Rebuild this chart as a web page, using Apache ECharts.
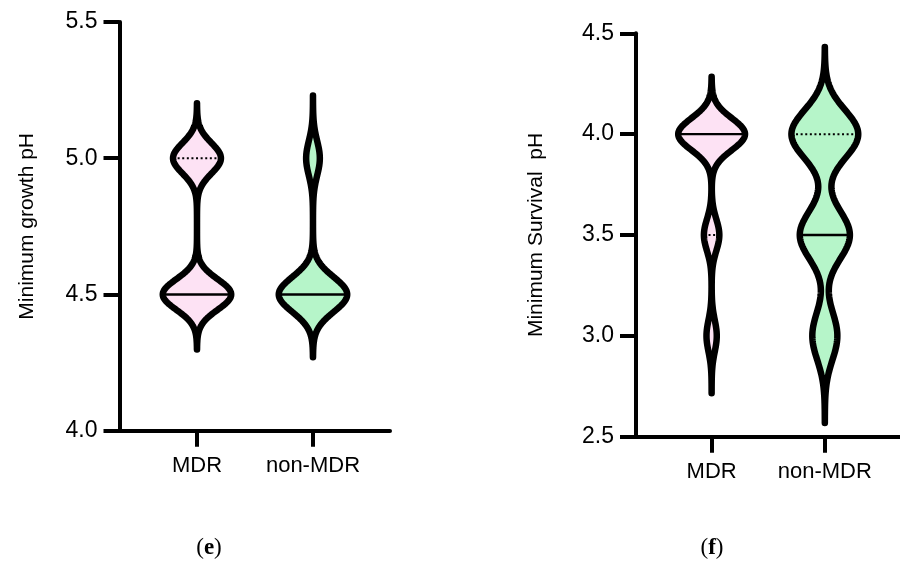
<!DOCTYPE html>
<html>
<head>
<meta charset="utf-8">
<script src="https://cdn.jsdelivr.net/npm/echarts@6/dist/echarts.min.js"></script>
<style>
  html, body { margin: 0; padding: 0; background: #ffffff; }
  #chart { width: 900px; height: 574px; }
</style>
</head>
<body>
<div id="chart"></div>
<script>
// Groups shown on both panels
const categories = ['MDR', 'non-MDR'];

// (e) Minimum growth pH: observed pH levels and number of isolates at each level
const growthLevels = [4.5, 5.0];
const growthCountsMDR = [10, 7];
const growthCountsNonMDR = [10, 2];
const growthBandwidth = [0.056, 0.064];   // KDE bandwidth per group (pH units)
const growthTicks = [4.0, 4.5, 5.0, 5.5];

// (f) Minimum survival pH
const survivalLevels = [3.0, 3.5, 4.0];
const survivalCountsMDR = [2, 3, 13];
const survivalCountsNonMDR = [3, 6, 8];
const survivalBandwidth = [0.079, 0.12];
const survivalTicks = [2.5, 3.0, 3.5, 4.0, 4.5];

// Drawing parameters
const FONT = "'Liberation Sans', Arial, Helvetica, sans-serif";
const SERIF = "'Liberation Serif', 'DejaVu Serif', serif";
const KDE_CUT = 3.6;          // tails extend this many bandwidths past the data
const HALF_WIDTH = 0.295;     // widest point of a violin, in category units
const X_MIN = 0.332, X_MAX = 2.664;
const FILLS = ['#fde2f4', '#b6f5c9'];

function expand(levels, counts) {
  const obs = [];
  levels.forEach((v, i) => { for (let k = 0; k < counts[i]; k++) obs.push(v); });
  return obs.sort((a, b) => a - b);
}

// percentile by rank (n+1)p
function percentile(sorted, p) {
  const n = sorted.length;
  const r = (n + 1) * p;
  const lo = Math.floor(r), f = r - lo;
  const at = i => sorted[Math.max(0, Math.min(n - 1, i - 1))];
  return at(lo) + (at(lo + 1) - at(lo)) * f;
}

function buildViolin(levels, counts, h, x) {
  const obs = expand(levels, counts);
  const lo = obs[0] - KDE_CUT * h;
  const hi = obs[obs.length - 1] + KDE_CUT * h;
  const steps = 300;
  const profile = [];
  let maxD = 0;
  for (let s = 0; s <= steps; s++) {
    const y = lo + (hi - lo) * s / steps;
    let d = 0;
    levels.forEach((v, i) => {
      const z = (y - v) / h;
      d += counts[i] * Math.exp(-0.5 * z * z);
    });
    profile.push([y, d]);
    if (d > maxD) maxD = d;
  }
  profile.forEach(p => { p[1] /= maxD; });
  return {
    x: x,
    profile: profile,
    median: percentile(obs, 0.5),
    q1: percentile(obs, 0.25),
    q3: percentile(obs, 0.75)
  };
}

function widthAt(profile, y) {
  for (let i = 1; i < profile.length; i++) {
    if (profile[i][0] >= y) {
      const a = profile[i - 1], b = profile[i];
      const t = (y - a[0]) / (b[0] - a[0]);
      return a[1] + (b[1] - a[1]) * t;
    }
  }
  return 0;
}

const growthViolins = [
  buildViolin(growthLevels, growthCountsMDR, growthBandwidth[0], 1),
  buildViolin(growthLevels, growthCountsNonMDR, growthBandwidth[1], 2)
];
const survivalViolins = [
  buildViolin(survivalLevels, survivalCountsMDR, survivalBandwidth[0], 1),
  buildViolin(survivalLevels, survivalCountsNonMDR, survivalBandwidth[1], 2)
];

function violinRenderer(violins) {
  return function (params, api) {
    const v = violins[params.dataIndex];
    const right = v.profile.map(p => api.coord([v.x + p[1] * HALF_WIDTH, p[0]]));
    const left = v.profile.slice().reverse().map(p => api.coord([v.x - p[1] * HALF_WIDTH, p[0]]));
    const children = [{
      type: 'polygon',
      shape: { points: right.concat(left) },
      style: { fill: FILLS[params.dataIndex], stroke: '#000', lineWidth: 6.5, lineJoin: 'round' }
    }];
    const hline = (y, dashed) => {
      const w = widthAt(v.profile, y) * HALF_WIDTH;
      const a = api.coord([v.x - w, y]);
      const b = api.coord([v.x + w, y]);
      children.push({
        type: 'line',
        shape: { x1: a[0], y1: a[1], x2: b[0], y2: b[1] },
        style: dashed
          ? { stroke: '#000', lineWidth: 2, lineDash: [2, 2.6] }
          : { stroke: '#000', lineWidth: 2.4 }
      });
    };
    if (v.q1 !== v.median) hline(v.q1, true);
    if (v.q3 !== v.median) hline(v.q3, true);
    hline(v.median, false);
    return { type: 'group', children: children };
  };
}

function xAxisFor(gridIndex) {
  return {
    type: 'value', gridIndex: gridIndex, min: X_MIN, max: X_MAX,
    axisLine: { show: true, onZero: false, lineStyle: { color: '#000', width: 4 } },
    axisTick: { show: true, customValues: [1, 2], length: 16, lineStyle: { color: '#000', width: 4 } },
    axisLabel: {
      customValues: [1, 2], margin: 24, color: '#000', fontSize: 22, fontFamily: FONT,
      formatter: v => categories[Math.round(v) - 1]
    },
    splitLine: { show: false }
  };
}

function yAxisFor(gridIndex, ticks, name, gap) {
  return {
    type: 'value', gridIndex: gridIndex,
    min: ticks[0], max: ticks[ticks.length - 1], interval: ticks[1] - ticks[0],
    name: name, nameLocation: 'middle', nameGap: gap,
    nameTextStyle: { color: '#000', fontSize: 21, fontFamily: FONT },
    axisLine: { show: true, onZero: false, lineStyle: { color: '#000', width: 4 } },
    axisTick: { show: true, length: 16, lineStyle: { color: '#000', width: 4 } },
    axisLabel: { margin: 22, color: '#000', fontSize: 23, fontFamily: FONT, formatter: v => v.toFixed(1) },
    splitLine: { show: false }
  };
}

const panelLabel = (letter, x, y) => ({
  type: 'text', x: x, y: y,
  style: {
    text: '{p|(}{b|' + letter + '}{p|)}',
    align: 'center', verticalAlign: 'middle',
    rich: {
      p: { fontSize: 23, fontFamily: SERIF, fill: '#000' },
      b: { fontSize: 23, fontWeight: 'bold', fontFamily: SERIF, fill: '#000' }
    }
  }
});

const chart = echarts.init(document.getElementById('chart'), null, { renderer: 'canvas' });
chart.setOption({
  animation: false,
  backgroundColor: '#ffffff',
  grid: [
    { left: 119.5, right: 510, top: 22, bottom: 143.3 },
    { left: 636, right: -6.5, top: 33.3, bottom: 137.3 }
  ],
  xAxis: [xAxisFor(0), xAxisFor(1)],
  yAxis: [
    yAxisFor(0, growthTicks, 'Minimum growth pH', 82),
    yAxisFor(1, survivalTicks, 'Minimum Survival  pH', 89)
  ],
  series: [
    {
      type: 'custom', xAxisIndex: 0, yAxisIndex: 0, clip: false, silent: true,
      renderItem: violinRenderer(growthViolins),
      data: growthViolins.map(v => [v.x, v.median])
    },
    {
      type: 'custom', xAxisIndex: 1, yAxisIndex: 1, clip: false, silent: true,
      renderItem: violinRenderer(survivalViolins),
      data: survivalViolins.map(v => [v.x, v.median])
    }
  ],
  graphic: [panelLabel('e', 209, 548), panelLabel('f', 712, 548)]
});
</script>
</body>
</html>
